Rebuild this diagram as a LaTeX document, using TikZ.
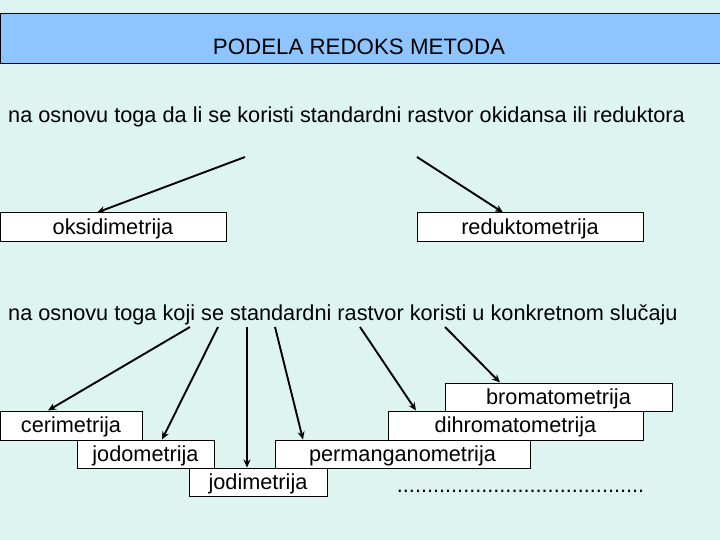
\documentclass[tikz,border=0pt]{standalone}
\usepackage{fontspec}
\setmainfont{Liberation Sans}
\usetikzlibrary{arrows.meta}
\definecolor{bg}{HTML}{DDF4F0}
\definecolor{titlebg}{HTML}{8EC5FF}
\tikzset{
  box/.style={draw=black, line width=1pt, fill=white, inner sep=0pt, text height=16pt, text depth=1.5pt, font=\fontsize{21.7}{24}\selectfont},
  linetext/.style={anchor=west, inner sep=0pt, font=\fontsize{21.7}{24}\selectfont},
  arr/.style={line width=1.9pt, -{Stealth[length=8pt,width=7pt]}},
}
\begin{document}
\begin{tikzpicture}[x=1pt,y=-1pt]
\fill[bg] (0,0) rectangle (720,540);
\useasboundingbox (0,0) rectangle (720,540);
\node[draw=black, line width=1pt, fill=titlebg, minimum width=721pt, minimum height=50pt, inner sep=0pt] (title) at (360.5,39) {};
\node[inner sep=0pt, font=\fontsize{22.3}{25}\selectfont] (titletext) at (359,47) {PODELA REDOKS METODA};

\node[linetext] (l1) at (8,116.5) {na osnovu toga da li se koristi standardni rastvor okidansa ili reduktora};
\node[linetext] (l2) at (8,314.5) {na osnovu toga koji se standardni rastvor koristi u konkretnom slučaju};

\node[box, minimum width=226pt, minimum height=28pt] (oks) at (113,227) {oksidimetrija};
\node[box, minimum width=226pt, minimum height=28pt] (red) at (530,227) {reduktometrija};

\coordinate (s1) at (245,157);
\coordinate (s2) at (417,157);
\draw[arr] (s1) -- (oks.north -| 97,0);
\draw[arr] (s2) -- (red.north -| 503,0);

\node[box, minimum width=227pt, minimum height=28pt] (brom) at (558.5,397) {bromatometrija};
\node[box, minimum width=255pt, minimum height=29pt] (dihr) at (515.5,425.5) {dihromatometrija};
\node[box, minimum width=142pt, minimum height=29pt] (ceri) at (71,425.5) {cerimetrija};
\node[box, minimum width=255pt, minimum height=28pt] (perm) at (402.5,454) {permanganometrija};
\node[box, minimum width=137pt, minimum height=28pt] (jodo) at (145.5,454) {jodometrija};
\node[box, minimum width=138pt, minimum height=28pt] (jodi) at (258,482) {jodimetrija};
\node[inner sep=0pt, anchor=base, font=\fontsize{21.7}{24}\selectfont] (dots) at (520.5,492) {.........................................};

\coordinate (t1) at (190,327);
\coordinate (t2) at (218,327);
\coordinate (t3) at (247,327);
\coordinate (t4) at (275,327);
\coordinate (t5) at (360,327);
\coordinate (t6) at (445,327);
\draw[arr] (t1) -- (ceri.north -| 48,0);
\draw[arr] (t2) -- (jodo.north -| 162,0);
\draw[arr] (t3) -- (jodi.north -| 247,0);
\draw[arr] (t4) -- (perm.north -| 303,0);
\draw[arr] (t5) -- (dihr.north -| 416,0);
\draw[arr] (t6) -- (brom.north -| 500,0);
\end{tikzpicture}
\end{document}
